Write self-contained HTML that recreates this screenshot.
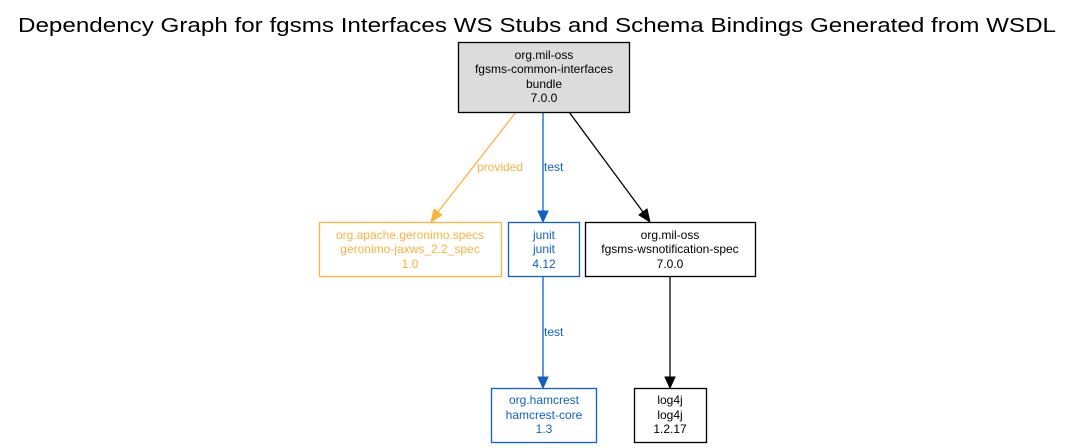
<!DOCTYPE html>
<html><head><meta charset="utf-8"><style>
html,body{margin:0;padding:0;background:#fff;}
svg{display:block;font-family:"Liberation Sans",Arial,sans-serif;}
</style></head><body>
<svg width="1075" height="448" viewBox="0 0 1075 448" xmlns="http://www.w3.org/2000/svg">
<rect width="1075" height="448" fill="#fff"/>
<text x="537" y="32" font-size="20" text-anchor="middle" textLength="1038" lengthAdjust="spacingAndGlyphs">Dependency Graph for fgsms Interfaces WS Stubs and Schema Bindings Generated from WSDL</text>

<!-- edges -->
<g stroke-width="1.3" fill="none">
<line x1="516" y1="112" x2="438" y2="212" stroke="#f9b33f"/>
<line x1="543" y1="112" x2="543" y2="211" stroke="#1060c8"/>
<line x1="569" y1="112" x2="643" y2="212" stroke="#000"/>
<line x1="543" y1="277" x2="543" y2="377" stroke="#1060c8"/>
<line x1="670" y1="277" x2="670" y2="377" stroke="#000"/>
</g>
<polygon points="431,222 434,209 442,215" fill="#f9b33f" stroke="#f9b33f"/>
<polygon points="543,222 538,211 548,211" fill="#1060c8" stroke="#1060c8"/>
<polygon points="650,222 639,215 647,209" fill="#000" stroke="#000"/>
<polygon points="543,388 538,377 548,377" fill="#1060c8" stroke="#1060c8"/>
<polygon points="670,388 665,377 675,377" fill="#000" stroke="#000"/>

<g font-size="12">
<text x="477" y="171" fill="#f9b33f">provided</text>
<text x="544" y="171" fill="#1060c8">test</text>
<text x="544" y="336" fill="#1060c8">test</text>
</g>

<!-- nodes -->
<rect x="458.5" y="42.5" width="171" height="70" fill="#dcdcdc" stroke="#000" stroke-width="1.3"/>
<g font-size="12" text-anchor="middle">
<text x="544" y="59">org.mil-oss</text>
<text x="544" y="73">fgsms-common-interfaces</text>
<text x="544" y="88">bundle</text>
<text x="544" y="102">7.0.0</text>
</g>

<rect x="319.5" y="222.5" width="182" height="54" fill="#fff" stroke="#f9b33f" stroke-width="1.3"/>
<g font-size="12" text-anchor="middle" fill="#f9b33f">
<text x="410" y="239">org.apache.geronimo.specs</text>
<text x="410" y="253">geronimo-jaxws_2.2_spec</text>
<text x="410" y="268">1.0</text>
</g>

<rect x="508.5" y="222.5" width="71" height="54" fill="#fff" stroke="#1060c8" stroke-width="1.3"/>
<g font-size="12" text-anchor="middle" fill="#1060c8">
<text x="544" y="239">junit</text>
<text x="544" y="253">junit</text>
<text x="544" y="268">4.12</text>
</g>

<rect x="585.5" y="222.5" width="170" height="54" fill="#fff" stroke="#000" stroke-width="1.3"/>
<g font-size="12" text-anchor="middle">
<text x="670" y="239">org.mil-oss</text>
<text x="670" y="253">fgsms-wsnotification-spec</text>
<text x="670" y="268">7.0.0</text>
</g>

<rect x="491.5" y="388.5" width="105" height="54" fill="#fff" stroke="#1060c8" stroke-width="1.3"/>
<g font-size="12" text-anchor="middle" fill="#1060c8">
<text x="544" y="404">org.hamcrest</text>
<text x="544" y="419">hamcrest-core</text>
<text x="544" y="433">1.3</text>
</g>

<rect x="634.5" y="388.5" width="72" height="54" fill="#fff" stroke="#000" stroke-width="1.3"/>
<g font-size="12" text-anchor="middle">
<text x="670" y="404">log4j</text>
<text x="670" y="419">log4j</text>
<text x="670" y="433">1.2.17</text>
</g>
</svg>
</body></html>
